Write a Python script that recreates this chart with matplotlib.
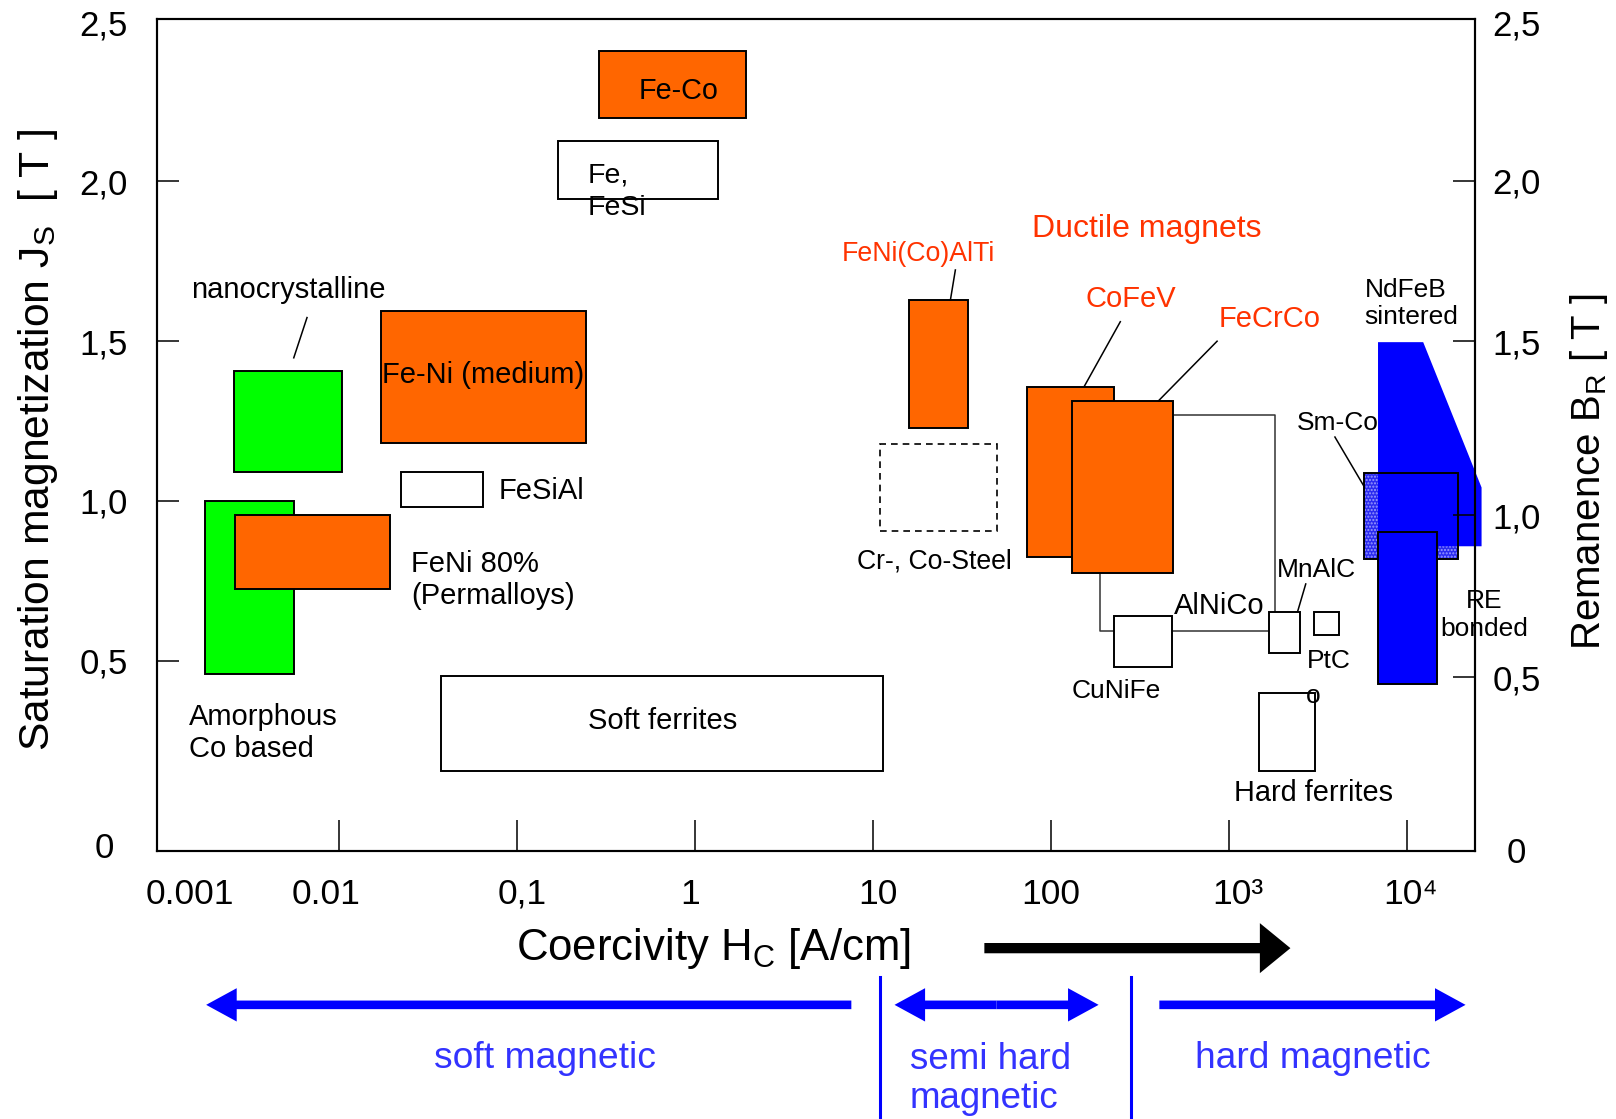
import matplotlib
matplotlib.use("Agg")
from matplotlib import pyplot as plt
from matplotlib import transforms
from matplotlib.patches import Rectangle, Polygon, FancyArrowPatch, ArrowStyle
from matplotlib.ticker import FixedLocator, FixedFormatter, NullFormatter

plt.rcParams['font.family'] = ['Liberation Sans', 'DejaVu Sans']
plt.rcParams['hatch.linewidth'] = 1.0

# material fields: coercivity range [A/cm] and saturation range [T]
materials = ['Fe-Co', 'Fe, FeSi', 'nanocrystalline', 'Fe-Ni (medium)', 'FeSiAl',
             'Amorphous Co based', 'FeNi 80%', 'Soft ferrites', 'FeNi(Co)AlTi',
             'Cr-, Co-Steel', 'CoFeV', 'FeCrCo', 'CuNiFe', 'MnAlC', 'PtCo',
             'Hard ferrites', 'RE bonded']
hc_lo = [0.29, 0.169, 0.00257, 0.0173, 0.0222, 0.00177, 0.0026, 0.0374, 15.9,
         11, 72.8, 131, 226, 1671, 3006, 1483, 6880]
hc_hi = [1.94, 1.35, 0.0104, 0.245, 0.0647, 0.00556, 0.0192, 11.4, 34,
         49.4, 226, 483, 477, 2495, 4140, 3041, 14830]
js_lo = [2.2, 1.945, 1.09, 1.181, 0.981, 0.458, 0.723, 0.155, 1.229,
         0.906, 0.823, 0.774, 0.481, 0.523, 0.581, 0.155, 0.427]
js_hi = [2.41, 2.126, 1.406, 1.594, 1.09, 1.0, 0.955, 0.452, 1.629,
         1.177, 1.358, 1.313, 0.639, 0.652, 0.652, 0.4, 0.904]
group = ['alloy', 'plain', 'nano', 'alloy', 'plain', 'nano', 'alloy', 'plain', 'alloy',
         'steel', 'alloy', 'alloy', 'plain', 'plain', 'plain', 'plain', 'rare']

# Sm-Co field and sintered NdFeB outline
smco_hc = [5729, 19230]
smco_js = [0.817, 1.088]
ndfeb_hc = [6873, 12330, 26240, 26240, 6873]
ndfeb_js = [1.497, 1.497, 1.042, 0.858, 0.858]

# AlNiCo outline (three pieces)
alnico_hc = [[483, 1811, 1811], [187.5, 187.5, 226], [477, 1671]]
alnico_js = [[1.268, 1.268, 0.652], [0.774, 0.594, 0.594], [0.594, 0.594]]

# labels
lab_text = ['Fe-Co', 'Fe,\nFeSi', 'nanocrystalline', 'Fe-Ni (medium)', 'FeSiAl',
            'FeNi 80%\n(Permalloys)', 'Amorphous\nCo based', 'Soft ferrites',
            'FeNi(Co)AlTi', 'Cr-, Co-Steel', 'Ductile magnets', 'CoFeV', 'FeCrCo',
            'AlNiCo', 'CuNiFe', 'MnAlC', 'PtC', 'o', 'Hard ferrites',
            'NdFeB\nsintered', 'Sm-Co', 'RE\nbonded']
lab_hc = [0.804, 0.248, 0.0052, 0.0647, 0.079, 0.0254, 0.00143, 0.658,
          17.9, 22.2, 347, 280, 1694, 881, 232, 3083, 3623, 2965, 2965,
          5770, 4085, 27100]
lab_js = [2.284, 1.968, 1.661, 1.394, 1.032, 0.752, 0.273, 0.31,
          1.774, 0.81, 1.852, 1.632, 1.571, 0.671, 0.406, 0.784, 0.5, 0.39, 0.087,
          1.618, 1.245, 0.642]
lab_ha = ['center', 'left', 'center', 'center', 'left', 'left', 'left', 'center',
          'center', 'center', 'center', 'center', 'center', 'center', 'center', 'center',
          'center', 'center', 'center', 'left', 'center', 'center']
lab_size = [20.7, 20.5, 21, 21, 21, 21, 21, 21, 19.3, 19.2, 23, 21, 21, 21, 19, 19,
            19, 19, 20.8, 19, 19, 19]
ductile = ['FeNi(Co)AlTi', 'Ductile magnets', 'CoFeV', 'FeCrCo']

# leader lines
lead_hc = [[0.0066, 0.00556], [29.0, 27.2], [245, 153.5], [857, 401], [2698, 2427], [3936, 5729]]
lead_js = [[1.574, 1.448], [1.723, 1.629], [1.561, 1.358], [1.5, 1.313], [0.74, 0.653], [1.2, 1.046]]

# ticks
x_marks = [0.01, 0.1, 1, 10, 100, 1e3, 1e4]
x_lab_pos = [10**-2.84, 10**-2.075, 10**-0.97, 10**-0.03, 10**1.03, 10**2.0, 10**3.05, 10**4.02]
x_labels = ['0.001', '0.01', '0,1', '1', '10', '100', '10³', '10⁴']
yl_marks = [0.5, 1.0, 1.5, 2.0]
yl_pos = [-0.077, 0.5, 1.0, 1.5, 2.0, 2.497]
yl_labels = ['0', '0,5', '1,0', '1,5', '2,0', '2,5']
yr_marks = [0.448, 0.955, 1.5, 2.003]
yr_pos = [-0.094, 0.448, 0.955, 1.5, 2.003, 2.497]
yr_labels = ['0', '0,5', '1,0', '1,5', '2,0', '2,5']

# regions below the axis
soft_hc = [7.55, 0.00179]
semi_hc = [13.2, 185]
hard_hc = [406, 21330]
borders_hc = [10.96, 280]
hc_arrow = [42.2, 2213]

fills = {'alloy': '#ff6600', 'nano': '#00ff00', 'plain': 'white', 'steel': 'white', 'rare': '#0000ff'}
red = '#ff3300'
blue = '#0000ff'
blue_txt = '#3333ff'

fig = plt.figure(figsize=(16.16, 11.19), dpi=100)
ax = fig.add_axes([0.09697, 0.23923, 0.81566, 0.74415])
ax.set_xscale('log')

# Sm-Co stipple goes under the NdFeB field
ax.add_patch(Rectangle((smco_hc[0], smco_js[0]), smco_hc[1] - smco_hc[0], smco_js[1] - smco_js[0],
                       facecolor='#2a2af0', edgecolor='#9a9aff', hatch='.....', lw=0, zorder=1))
ax.add_patch(Polygon(list(zip(ndfeb_hc, ndfeb_js)), closed=True, facecolor=blue, lw=0,
                     zorder=1.1, clip_on=False))
ax.add_patch(Rectangle((smco_hc[0], smco_js[0]), smco_hc[1] - smco_hc[0], smco_js[1] - smco_js[0],
                       facecolor='none', edgecolor='k', lw=1.4, zorder=1.2))

for name, a, b, c, d, g in zip(materials, hc_lo, hc_hi, js_lo, js_hi, group):
    ls = (0, (4, 3)) if g == 'steel' else '-'
    lw = 1.2 if g == 'steel' else 1.4
    z = 1.3 if g == 'rare' else 1
    ax.add_patch(Rectangle((a, c), b - a, d - c, facecolor=fills[g], edgecolor='k',
                           lw=lw, linestyle=ls, zorder=z))

for xs, ys in zip(alnico_hc, alnico_js):
    ax.plot(xs, ys, color='#333333', lw=1.1, zorder=0.9)

for xs, ys in zip(lead_hc, lead_js):
    ax.plot(xs, ys, color='k', lw=1.1, zorder=2)

for t, x, y, ha, s in zip(lab_text, lab_hc, lab_js, lab_ha, lab_size):
    ax.text(x, y, t, ha=ha, va='center', fontsize=s, color=red if t in ductile else 'k',
            linespacing=1.3 if t.startswith('Fe,') else 1.2, zorder=3)

ax.set_xlim(10**-3.025, 10**4.381)
ax.set_ylim(-0.097, 2.51)

# major ticks give the marks, minor ticks carry the labels
ax.xaxis.remove_overlapping_locs = False
ax.yaxis.remove_overlapping_locs = False
ax.xaxis.set_major_locator(FixedLocator(x_marks))
ax.xaxis.set_major_formatter(NullFormatter())
ax.xaxis.set_minor_locator(FixedLocator(x_lab_pos))
ax.xaxis.set_minor_formatter(FixedFormatter(x_labels))
ax.tick_params(axis='x', which='major', direction='in', length=22, width=1.1)
ax.tick_params(axis='x', which='minor', length=0, pad=19, labelsize=25.5)

ax.yaxis.set_major_locator(FixedLocator(yl_marks))
ax.yaxis.set_major_formatter(NullFormatter())
ax.yaxis.set_minor_locator(FixedLocator(yl_pos))
ax.yaxis.set_minor_formatter(FixedFormatter(yl_labels))
ax.tick_params(axis='y', which='major', direction='in', length=16, width=1.1)
ax.tick_params(axis='y', which='minor', length=0, pad=38, labelsize=25)
plt.setp(ax.get_yminorticklabels(), ha='center')
for sp in ax.spines.values():
    sp.set_linewidth(1.5)

ax2 = ax.twinx()
ax2.set_ylim(ax.get_ylim())
ax2.yaxis.remove_overlapping_locs = False
ax2.yaxis.set_major_locator(FixedLocator(yr_marks))
ax2.yaxis.set_major_formatter(NullFormatter())
ax2.yaxis.set_minor_locator(FixedLocator(yr_pos))
ax2.yaxis.set_minor_formatter(FixedFormatter(yr_labels))
ax2.tick_params(axis='y', which='major', direction='in', length=16, width=1.1)
ax2.tick_params(axis='y', which='minor', length=0, pad=30, labelsize=25)
plt.setp(ax2.get_yminorticklabels(), ha='center')
for sp in ax2.spines.values():
    sp.set_linewidth(1.5)

ax.text(-0.090, 0.494, 'Saturation magnetization J$_\\mathregular{S}$  [ T ]', rotation=90,
        ha='center', va='center', fontsize=30.7, transform=ax.transAxes)
ax.text(1.0867, 0.456, 'Remanence B$_\\mathregular{R}$ [ T ]', rotation=90,
        ha='center', va='center', fontsize=29, transform=ax.transAxes)

# below the axis: coercivity label and the soft / semi hard / hard ranges
bt = transforms.blended_transform_factory(ax.transData, ax.transAxes)
ax.text(1.265, -0.1163, 'Coercivity H$_\\mathregular{C}$ [A/cm]', ha='center', va='center',
        fontsize=31.5, transform=bt)

def arrow(x0, x1, y, col, tail, hl, hw):
    p = FancyArrowPatch((x0, y), (x1, y), transform=bt, mutation_scale=1,
                        arrowstyle=ArrowStyle.Simple(head_length=hl, head_width=hw, tail_width=tail),
                        color=col, lw=0, shrinkA=0, shrinkB=0, clip_on=False)
    ax.add_patch(p)

arrow(hc_arrow[0], hc_arrow[1], -0.1163, 'k', 7.4, 22, 36)
yb = -0.1844
arrow(soft_hc[0], soft_hc[1], yb, blue, 6.2, 22, 24)
mid = (semi_hc[0] * semi_hc[1]) ** 0.5
arrow(mid, semi_hc[0], yb, blue, 6.2, 22, 24)
arrow(mid, semi_hc[1], yb, blue, 6.2, 22, 24)
arrow(hard_hc[0], hard_hc[1], yb, blue, 6.2, 22, 24)
for xb in borders_hc:
    ax.plot([xb, xb], [-0.151, -0.33], color=blue, lw=2.2, transform=bt, clip_on=False)

ax.text(0.1439, -0.2488, 'soft magnetic', ha='center', va='center', fontsize=26.8,
        color=blue_txt, transform=bt)
ax.text(16.1, -0.2735, 'semi hard\nmagnetic', ha='left', va='center', fontsize=26.5,
        color=blue_txt, linespacing=1.15, transform=bt)
ax.text(2965, -0.2488, 'hard magnetic', ha='center', va='center', fontsize=26.7,
        color=blue_txt, transform=bt)

ax.set_xlim(10**-3.025, 10**4.381)
ax.set_ylim(-0.097, 2.51)
ax2.set_ylim(-0.097, 2.51)

fig.savefig('out.png', dpi=100)
